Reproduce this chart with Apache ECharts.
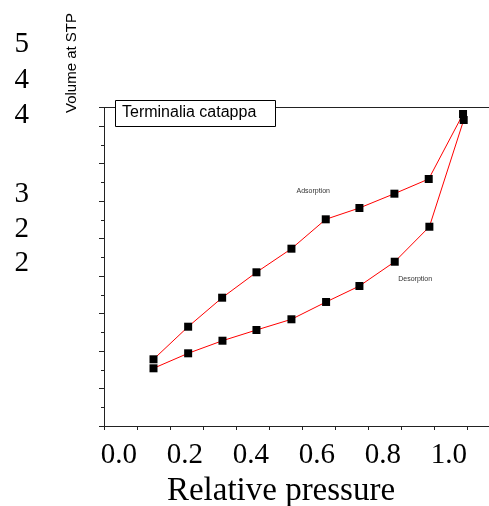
<!DOCTYPE html>
<html>
<head>
<meta charset="utf-8">
<script src="https://cdn.jsdelivr.net/npm/echarts@6/dist/echarts.min.js"></script>
<style>
  html, body { margin: 0; padding: 0; background: #fff; }
  #chart { width: 489px; height: 506px; }
</style>
</head>
<body>
<div id="chart"></div>
<script>
// Nitrogen isotherm of Terminalia catappa: adsorption and desorption branches
const adsPressure = [0.05, 0.155, 0.258, 0.362, 0.468, 0.572, 0.674, 0.78, 0.884, 0.988];
const adsVolume   = [8.90, 13.25, 17.12, 20.51, 23.66, 27.58, 29.09, 31.00, 32.96, 41.63];
const desPressure = [0.05, 0.155, 0.259, 0.362, 0.468, 0.573, 0.674, 0.781, 0.886, 0.99];
const desVolume   = [7.70, 9.70, 11.38, 12.81, 14.24, 16.55, 18.68, 21.92, 26.59, 40.83];

// x tick labels (every other tick carries a label)
const xLabelValues = [0, 0.2, 0.4, 0.6, 0.8, 1.0];
const xTickLabels  = ['0.0', '0.2', '0.4', '0.6', '0.8', '1.0'];

// side labels of the volume scale, upper and lower groups, bottom to top
const yTickLabelsUpper = ['4', '4', '5'];
const yTickLabelsLower = ['2', '2', '3'];

const sampleName = 'Terminalia catappa';
const xTitle = 'Relative pressure';
const yTitle = 'Volume at STP';

const toPairs = (xs, ys) => xs.map((x, i) => [x, ys[i]]);

const axisColor = '#222';
const serif = '"Liberation Serif", "Times New Roman", serif';
const sans = '"Liberation Sans", Arial, sans-serif';

const sideLabelAxis = (gridIndex, data) => ({
  gridIndex,
  type: 'category',
  data,
  boundaryGap: false,
  axisLine: { show: false },
  axisTick: { show: false },
  splitLine: { show: false },
  axisLabel: {
    interval: 0,
    margin: 3,
    fontFamily: serif,
    fontSize: 29,
    color: '#000'
  }
});

const chart = echarts.init(document.getElementById('chart'), null, { renderer: 'canvas' });

chart.setOption({
  animation: false,
  backgroundColor: '#fff',
  title: {
    text: sampleName,
    left: 115,
    top: 100,
    padding: [5, 19, 6, 7],
    borderColor: '#000',
    borderWidth: 1,
    backgroundColor: '#fff',
    textStyle: { fontFamily: sans, fontSize: 16, fontWeight: 'normal', color: '#000' }
  },
  graphic: [{
    type: 'text',
    x: 72,
    y: 63,
    rotation: Math.PI / 2,
    style: {
      text: yTitle,
      font: '15px ' + sans,
      fill: '#000',
      align: 'center',
      verticalAlign: 'middle'
    }
  }],
  grid: [
    { left: 104, width: 396, top: 107.5, bottom: 80, outerBoundsMode: 'none', containLabel: false },
    { left: 32, width: 10, top: 44.8, height: 70.7, outerBoundsMode: 'none', containLabel: false },
    { left: 32, width: 10, top: 194.8, height: 68.4, outerBoundsMode: 'none', containLabel: false }
  ],
  xAxis: [
    {
      gridIndex: 0,
      type: 'value',
      min: -0.1,
      max: 1.1,
      interval: 0.1,
      splitLine: { show: false },
      axisLine: { onZero: false, lineStyle: { color: axisColor, width: 1 } },
      axisTick: { length: 4, lineStyle: { color: axisColor } },
      axisLabel: {
        margin: 15,
        align: 'right',
        fontFamily: serif,
        fontSize: 29,
        color: '#000',
        showMaxLabel: false,
        formatter: (v) => {
          const i = xLabelValues.findIndex((t) => Math.abs(t - v) < 1e-6);
          return i >= 0 ? xTickLabels[i] : '';
        }
      },
      name: xTitle,
      nameLocation: 'middle',
      nameGap: 49,
      nameTextStyle: {
        fontFamily: serif,
        fontSize: 33,
        color: '#000',
        padding: [0, 42, 0, 0]
      }
    },
    {
      gridIndex: 0,
      type: 'value',
      position: 'top',
      min: -0.1,
      max: 1.1,
      splitLine: { show: false },
      axisLine: { onZero: false, lineStyle: { color: axisColor, width: 1 } },
      axisTick: { show: false },
      axisLabel: { show: false }
    },
    { gridIndex: 1, type: 'value', show: false },
    { gridIndex: 2, type: 'value', show: false }
  ],
  yAxis: [
    {
      gridIndex: 0,
      type: 'value',
      min: 0,
      max: 42.5,
      interval: 5,
      splitLine: { show: false },
      axisLine: { show: true, onZero: false, lineStyle: { color: axisColor, width: 1 } },
      axisTick: { show: true, length: 5, lineStyle: { color: axisColor } },
      axisLabel: { show: false }
    },
    {
      gridIndex: 0,
      type: 'value',
      position: 'left',
      min: 0,
      max: 42.5,
      interval: 2.5,
      splitLine: { show: false },
      axisLine: { show: false, onZero: false },
      axisTick: { show: true, length: 3, lineStyle: { color: axisColor } },
      axisLabel: { show: false }
    },
    sideLabelAxis(1, yTickLabelsUpper),
    sideLabelAxis(2, yTickLabelsLower)
  ],
  series: [
    {
      name: 'Adsorption',
      type: 'line',
      xAxisIndex: 0,
      yAxisIndex: 0,
      data: toPairs(adsPressure, adsVolume),
      symbol: 'rect',
      symbolSize: 8,
      itemStyle: { color: '#000' },
      lineStyle: { color: '#ff0000', width: 1 },
      z: 3,
      markPoint: {
        symbol: 'circle',
        symbolSize: 0,
        silent: true,
        label: {
          show: true,
          position: 'inside',
          formatter: 'Adsorption',
          fontFamily: sans,
          fontSize: 7,
          color: '#333'
        },
        data: [{ coord: [0.534, 31.4] }]
      }
    },
    {
      name: 'Desorption',
      type: 'line',
      xAxisIndex: 0,
      yAxisIndex: 0,
      data: toPairs(desPressure, desVolume),
      symbol: 'rect',
      symbolSize: 8,
      itemStyle: { color: '#000' },
      lineStyle: { color: '#ff0000', width: 1 },
      z: 3,
      markPoint: {
        symbol: 'circle',
        symbolSize: 0,
        silent: true,
        label: {
          show: true,
          position: 'inside',
          formatter: 'Desorption',
          fontFamily: sans,
          fontSize: 7,
          color: '#333'
        },
        data: [{ coord: [0.843, 19.6] }]
      }
    }
  ]
});
</script>
</body>
</html>
